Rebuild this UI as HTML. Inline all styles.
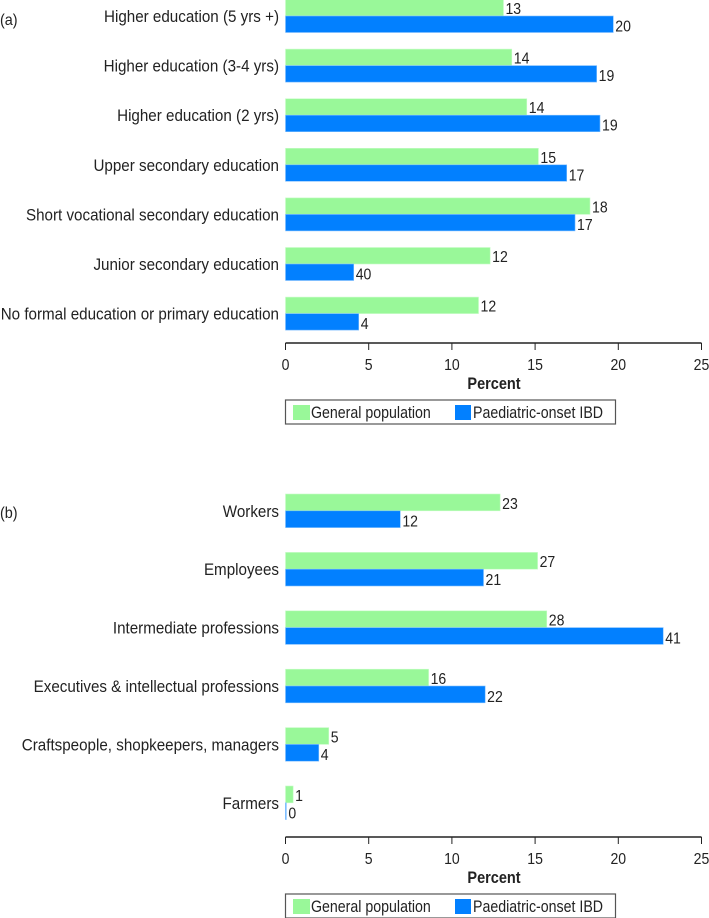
<!DOCTYPE html>
<html><head><meta charset="utf-8">
<style>
html,body{margin:0;padding:0;background:#fff;}
svg{display:block;font-family:"Liberation Sans",sans-serif;}
</style></head>
<body>
<svg id="chart" width="709" height="918" viewBox="0 0 709 918" xmlns="http://www.w3.org/2000/svg"></svg>
<script>
const catsA = ["Higher education (5 yrs +)","Higher education (3-4 yrs)","Higher education (2 yrs)","Upper secondary education","Short vocational secondary education","Junior secondary education","No formal education or primary education"];
const genA = [13.1,13.6,14.5,15.2,18.3,12.3,11.6];
const ibdA = [19.7,18.7,18.9,16.9,17.4,4.1,4.4];
const genLabA = ["13","14","14","15","18","12","12"];
const ibdLabA = ["20","19","19","17","17","40","4"];
const catsB = ["Workers","Employees","Intermediate professions","Executives & intellectual professions","Craftspeople, shopkeepers, managers","Farmers"];
const genB = [12.9,15.15,15.7,8.6,2.6,0.46];
const ibdB = [6.9,11.9,22.7,12.0,2.0,0.05];
const genLabB = ["23","27","28","16","5","1"];
const ibdLabB = ["12","21","41","22","4","0"];
const ticks = [0,5,10,15,20,25];

const NS="http://www.w3.org/2000/svg";
const svg=document.getElementById('chart');
function mk(tag,attrs,parent){const e=document.createElementNS(NS,tag);for(const k in attrs)e.setAttribute(k,attrs[k]);(parent||svg).appendChild(e);return e;}
function txt(x,y,size,sx,anchor,parent,extra){
  const a={x:0,y:0,'font-size':size,fill:'#222','text-anchor':anchor||'start',transform:'translate('+x+','+y+') scale('+sx+',1)'};
  if(extra)for(const k in extra)a[k]=extra[k];
  return mk('text',a,parent);
}
const x0=285.5, pxPer=16.64;
function xs(v){return x0+v*pxPer;}
const GREEN="#99f899", BLUE="#0280ff";

function panel(name,cats,gen,ibd,genLab,ibdLab,top0,step,bh,axisY,panelLabel,panelLabelY){
  const g=mk('g',{});
  
  
  const pl=txt(0,panelLabelY,16,0.9,'start',g);
  pl.textContent=panelLabel;
  
  
  cats.forEach((c,i)=>{
    const t=top0+i*step;
    const lab=txt(279,t+bh+6,16.5,0.92,'end',g);
    lab.textContent=c;
    
    
    const gb=mk('rect',{x:x0,y:t,width:Math.max(xs(gen[i])-x0,0.5),height:bh,fill:GREEN,stroke:'#c8fcc8','stroke-width':0.6},g);
    
    
    const bb=mk('rect',{x:x0,y:t+bh,width:Math.max(xs(ibd[i])-x0,0.5),height:bh,fill:BLUE,stroke:'#7fbfff','stroke-width':0.6},g);
    
    
    const gl=txt(xs(gen[i])+2,t+bh-2,16,0.88,'start',g);
    gl.textContent=genLab[i];
    
    
    const il=txt(xs(ibd[i])+2,t+2*bh-1,16,0.88,'start',g);
    il.textContent=ibdLab[i];
    
    
  });
  const ax=mk('line',{x1:x0,x2:xs(25),y1:axisY,y2:axisY,stroke:'#222','stroke-width':1.5},g);
  
  
  ticks.forEach(v=>{
    const tk=mk('line',{x1:xs(v),x2:xs(v),y1:axisY,y2:axisY+7,stroke:'#222','stroke-width':1},g);
    
    
    const tl=txt(xs(v),axisY+27,16,0.88,'middle',g);
    tl.textContent=String(v);
    
    
  });
  const xt=txt(494,axisY+46,16.5,0.88,'middle',g,{'font-weight':'bold'});
  xt.textContent='Percent';
  
  
  const ly=axisY+57;
  const lg=mk('g',{},g);
  
  
  mk('rect',{x:285.5,y:ly,width:330,height:24,fill:'#fff',stroke:'#555','stroke-width':1.2},lg);
  const s1=mk('rect',{x:293,y:ly+5,width:17,height:15,fill:GREEN},lg);
  
  
  const t1=txt(311,ly+18,16.5,0.86,'start',lg);
  t1.textContent='General population';
  
  
  const s2=mk('rect',{x:455,y:ly+5,width:16,height:15,fill:BLUE},lg);
  
  
  const t2=txt(473,ly+18,16.5,0.86,'start',lg);
  t2.textContent='Paediatric-onset IBD';
  
  
}
panel('panel-a-education',catsA,genA,ibdA,genLabA,ibdLabA,-0.5,49.6,16.5,343,'(a)',25);
panel('panel-b-occupation',catsB,genB,ibdB,genLabB,ibdLabB,494,58.4,16.8,837,'(b)',518);
</script>
</body></html>
